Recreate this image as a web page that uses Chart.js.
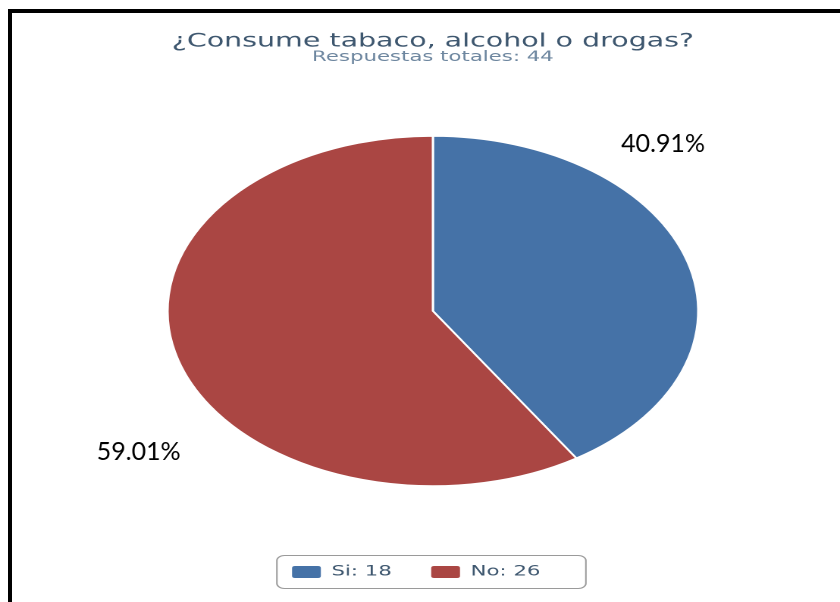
<!DOCTYPE html>
<html>
<head>
<meta charset="utf-8">
<title>Consumo de tabaco, alcohol o drogas</title>
<script src="https://cdn.jsdelivr.net/npm/chart.js@4.4.0/dist/chart.umd.min.js"></script>
<style>
  html, body { margin: 0; padding: 0; background: #fff; }
  #wrap { position: relative; width: 840px; height: 602px; overflow: hidden; }
  #chart { position: absolute; left: 0; top: 0; }
  /* black frame on the left and top edges */
  #frame {
    position: absolute; left: 8px; top: 9px; right: -10px; bottom: -10px;
    border-left: 4px solid #000; border-top: 4px solid #000;
    pointer-events: none;
  }
</style>
</head>
<body>
<div id="wrap">
  <canvas id="chart" width="554" height="602" style="width:840px;height:602px"></canvas>
  <div id="frame"></div>
</div>
<script>
const categories = ['Si', 'No'];
const responses = [18, 26];
const percentLabels = ['40.91%', '59.01%'];
const sliceColors = ['#4572A7', '#AA4643'];
const titleText = '¿Consume tabaco, alcohol o drogas?';
const subtitleText = 'Respuestas totales: 44';

// the chart is laid out narrow and shown wider
const DISPLAY_WIDTH = 840;
const LEGEND_SHIFT = -11;

// where each percentage sits, relative to its slice's middle angle
const labelPlacement = [
  { turn: -31.4, reach: 1.29 },
  { turn: -19.6, reach: 1.37 },
];

const legendFrame = {
  id: 'legendFrame',
  afterLayout(chart) {
    chart.legend.left += LEGEND_SHIFT;
    chart.legend.right += LEGEND_SHIFT;
  },
  afterDraw(chart) {
    const boxes = chart.legend.legendHitBoxes;
    if (!boxes || !boxes.length) return;
    const first = boxes[0];
    const last = boxes[boxes.length - 1];
    const cy = first.top + first.height / 2;
    const left = first.left - 10;
    const right = last.left + last.width + 30;
    const { ctx } = chart;
    ctx.save();
    ctx.strokeStyle = '#9a9a9a';
    ctx.lineWidth = 1;
    ctx.beginPath();
    ctx.roundRect(left, cy - 16.5, right - left, 33, 5);
    ctx.stroke();
    ctx.restore();
  },
};

const percentText = {
  id: 'percentText',
  afterDatasetsDraw(chart) {
    const { ctx } = chart;
    const sx = DISPLAY_WIDTH / chart.width;
    const arcs = chart.getDatasetMeta(0).data;
    ctx.save();
    ctx.font = "25px Lato, 'Open Sans', sans-serif";
    ctx.fillStyle = '#000';
    ctx.textAlign = 'center';
    ctx.textBaseline = 'middle';
    arcs.forEach((arc, i) => {
      const p = labelPlacement[i];
      const a = (arc.startAngle + arc.endAngle) / 2 + p.turn * Math.PI / 180;
      const r = arc.outerRadius * p.reach;
      const x = arc.x + Math.cos(a) * r;
      const y = arc.y + Math.sin(a) * r;
      // undo the horizontal stretch so the text keeps its shape
      ctx.save();
      ctx.translate(x, y);
      ctx.scale(1 / sx, 1);
      ctx.fillText(percentLabels[i], 0, 0);
      ctx.restore();
    });
    ctx.restore();
  },
};

const canvas = document.getElementById('chart');

new Chart(canvas, {
  type: 'pie',
  data: {
    labels: categories,
    datasets: [{
      data: responses,
      backgroundColor: sliceColors,
      borderColor: '#ffffff',
      borderWidth: 1.5,
      hoverOffset: 0,
      radius: 175,
    }],
  },
  options: {
    responsive: false,
    animation: false,
    devicePixelRatio: 2,
    layout: {
      padding: { left: 17, right: 0, top: 0, bottom: 13 },
    },
    plugins: {
      title: {
        display: true,
        text: titleText,
        color: '#3E576F',
        font: { family: "'DejaVu Sans', Verdana, sans-serif", size: 18.8, weight: 'normal', lineHeight: 1 },
        padding: { top: 32, bottom: -0.3 },
      },
      subtitle: {
        display: true,
        text: subtitleText,
        color: '#6D869F',
        font: { family: "'DejaVu Sans', Verdana, sans-serif", size: 14, weight: 'normal', lineHeight: 1 },
        padding: { top: 0, bottom: 18.5 },
      },
      legend: {
        position: 'bottom',
        labels: {
          color: '#3E576F',
          font: { family: "'DejaVu Sans', Verdana, sans-serif", size: 14 },
          boxWidth: 19,
          boxHeight: 12,
          padding: 26,
          useBorderRadius: true,
          generateLabels(chart) {
            const ds = chart.data.datasets[0];
            return chart.data.labels.map((label, i) => ({
              text: `${label}: ${ds.data[i]}`,
              fillStyle: ds.backgroundColor[i],
              strokeStyle: ds.backgroundColor[i],
              lineWidth: 0,
              borderRadius: 2,
              fontColor: '#3E576F',
              hidden: !chart.getDataVisibility(i),
              index: i,
            }));
          },
        },
      },
      tooltip: { enabled: false },
    },
  },
  plugins: [legendFrame, percentText],
});

// keep the wide display size
canvas.style.width = DISPLAY_WIDTH + 'px';
canvas.style.height = '602px';
</script>
</body>
</html>
